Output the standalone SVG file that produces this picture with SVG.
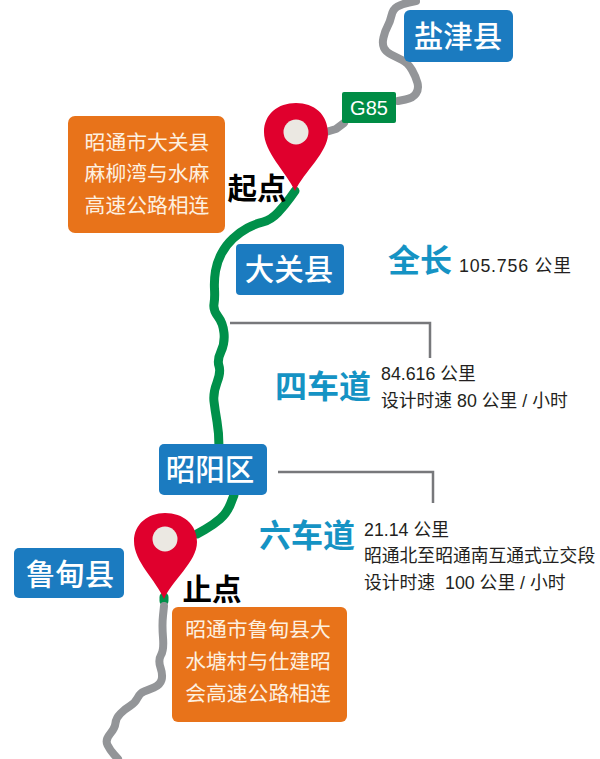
<svg xmlns="http://www.w3.org/2000/svg" width="600" height="759" viewBox="0 0 600 759">
<style>
text{font-family:"Noto Sans CJK SC","Liberation Sans",sans-serif}
.road{fill:none;stroke-width:8;stroke-linejoin:round;stroke-linecap:round}
.gray{stroke:#939598}
.green{stroke:#00904a;stroke-width:9}
.lead{fill:none;stroke:#77787b;stroke-width:2.5}
.blue{fill:#1b7bc0}
.orange{fill:#e8731a}
.bt{fill:#fff;font-size:29.5px;font-weight:500;text-anchor:middle}
.ot{fill:#fdf0e0;font-size:20.8px;text-anchor:middle}
.lane{fill:#1593c4;font-size:32px;font-weight:700;text-anchor:middle}
.info{fill:#231f20;font-size:17.8px;font-family:"Liberation Sans","Noto Sans CJK SC",sans-serif}
.end{fill:#000;font-size:29.5px;font-weight:700;text-anchor:middle}
.pin{fill:#e0002d}
.hole{fill:#ebe8e2}
</style>
<g id="connectors">
<path class="road gray" d="M416 1L409 2.5Q402 4 397.5 6.5Q393 9 391.5 15.5Q390 22 387.5 26.5Q385 31 383.5 37.5Q382 44 384 48Q386 52 391 54.5Q396 57 402 60Q408 63 412 70Q416 77 417.5 83Q419 89 416 93.5Q413 98 405.5 99.5L398 101"/>
<path class="road gray" d="M344 123L336 129L326 132"/>
<path class="road green" d="M295 191L290 198Q285 205 278 212.5Q271 220 263 222Q255 224 247.5 228Q240 232 233 238.5Q226 245 221.5 253.5Q217 262 215.5 271Q214 280 214.5 289Q215 298 214 304Q213 310 218 316.5Q223 323 224 333Q225 343 221 351.5Q217 360 219 366Q221 372 217 382.5Q213 393 214 401.5Q215 410 217 421.5Q219 433 219 447"/>
<path class="road green" d="M234 495L230.5 504Q227 513 220 519Q213 525 205 529.5L197 534"/>
<path class="road green" d="M164 597L164 601" stroke-linecap="butt"/>
<path class="road gray" d="M164 606L163 615.5Q162 625 163 637.5Q164 650 161 655Q158 660 160.5 667.5Q163 675 161.5 680Q160 685 154 687.5Q148 690 144 691.5Q140 693 137.5 698Q135 703 130 706Q125 709 120.5 713.5Q116 718 115.5 723Q115 728 110 734Q105 740 107.5 745Q110 750 114 754.5L118 759"/>
<path class="lead" d="M230 323H430V358"/>
<path class="lead" d="M278 472H433V503"/>
</g>
<g id="g85"><rect x="342" y="92" width="54" height="31" rx="2" fill="#008c45"/><text x="369" y="115" fill="#fff" font-size="20" text-anchor="middle" style="font-family:'Liberation Sans',sans-serif">G85</text></g>
<g id="yanjin"><rect class="blue" x="404" y="10" width="109" height="52" rx="6"/><text class="bt" x="458" y="47">盐津县</text></g>
<g id="daguan"><rect class="blue" x="236" y="244" width="108" height="51" rx="4"/><text class="bt" x="289" y="280">大关县</text></g>
<g id="zhaoyang"><rect class="blue" x="159" y="444" width="108" height="51" rx="5"/><text class="bt" x="210" y="480">昭阳区</text></g>
<g id="ludian"><rect class="blue" x="14" y="548" width="110" height="50" rx="5"/><text class="bt" x="70" y="585">鲁甸县</text></g>
<g id="start-note"><rect class="orange" x="68" y="116" width="157" height="117" rx="7"/><text class="ot" x="147" y="150">昭通市大关县</text><text class="ot" x="147" y="181">麻柳湾与水麻</text><text class="ot" x="147" y="213">高速公路相连</text></g>
<g id="end-note"><rect class="orange" x="172" y="607" width="175" height="115" rx="6"/><text class="ot" x="258" y="637">昭通市鲁甸县大</text><text class="ot" x="258" y="669">水塘村与仕建昭</text><text class="ot" x="258" y="701">会高速公路相连</text></g>
<g id="start-pin"><path class="pin" d="M295 191C286 172 264 152 264 132C264 114 278 103 296 103C314 103 328 114 328 134C328 152 304 172 295 191Z"/><circle class="hole" cx="296" cy="132" r="12.5"/><text class="end" x="257" y="199">起点</text></g>
<g id="end-pin"><path class="pin" d="M164 599C156 580 134 562 134 541C134 524 148 513 165 513C183 513 197 524 197 542C197 562 172 580 164 599Z"/><circle class="hole" cx="165" cy="539" r="12.5"/><text class="end" x="212" y="600">止点</text></g>
<g id="total"><text class="lane" x="420" y="272">全长</text><text class="info" x="459" y="272" style="letter-spacing:.8px">105.756 公里</text></g>
<g id="four-lane"><text class="lane" x="323" y="398">四车道</text><text class="info" x="381" y="380">84.616 公里</text><text class="info" x="381" y="407">设计时速 80 公里 / 小时</text></g>
<g id="six-lane"><text class="lane" x="307" y="547">六车道</text><text class="info" x="364" y="536">21.14 公里</text><text class="info" x="364" y="562">昭通北至昭通南互通式立交段</text><text class="info" x="364" y="589" xml:space="preserve">设计时速  100 公里 / 小时</text></g>
</svg>
